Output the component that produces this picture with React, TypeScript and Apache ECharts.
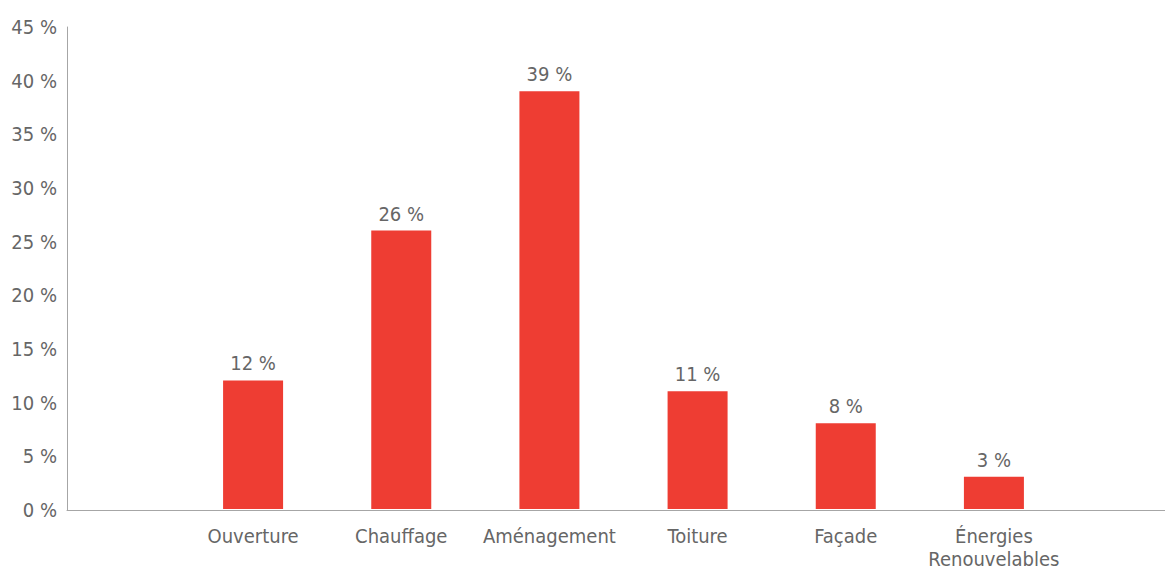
import React, { useEffect, useRef } from "react";
import * as echarts from "echarts";

const categories = ["Ouverture", "Chauffage", "Aménagement", "Toiture", "Façade", "Énergies\nRenouvelables"];
const values = [12, 26, 39, 11, 8, 3];
const yTicks = [0, 5, 10, 15, 20, 25, 30, 35, 40, 45];

const FONT = "'DejaVu Sans Condensed', 'Liberation Sans Narrow', 'Roboto', sans-serif";
const TEXT = "#666666";
const BAR = "#EE3D33";
const FS = 20;

export default function App() {
  const ref = useRef<HTMLDivElement>(null);
  useEffect(() => {
    if (!ref.current) return;
    const chart = echarts.init(ref.current, null, { renderer: "svg" });
    chart.setOption({
      animation: false,
      backgroundColor: "#ffffff",
      grid: [
        { left: 67, right: 0, top: 27, bottom: 60 },
        { left: 179, right: 97, top: 27, bottom: 60 },
      ],
      xAxis: [
        {
          gridIndex: 0,
          type: "value",
          min: 0,
          max: 1,
          axisLine: { show: true, onZero: false, lineStyle: { color: "#a6a6a6", width: 1 } },
          axisTick: { show: false },
          axisLabel: { show: false },
          splitLine: { show: false },
        },
        {
          gridIndex: 1,
          type: "category",
          data: categories,
          axisLine: { show: false },
          axisTick: { show: false },
          axisLabel: {
            color: TEXT,
            fontFamily: FONT,
            fontSize: FS,
            margin: 15,
            lineHeight: 23,
            interval: 0,
          },
        },
      ],
      yAxis: [
        {
          gridIndex: 0,
          type: "value",
          min: yTicks[0],
          max: yTicks[yTicks.length - 1],
          interval: 5,
          axisLine: { show: true, lineStyle: { color: "#a6a6a6", width: 1 } },
          axisTick: { show: false },
          splitLine: { show: false },
          axisLabel: {
            color: TEXT,
            fontFamily: FONT,
            fontSize: FS,
            margin: 10,
            formatter: (v: number) => `${v} %`,
          },
        },
        {
          gridIndex: 1,
          type: "value",
          min: yTicks[0],
          max: yTicks[yTicks.length - 1],
          interval: 5,
          show: false,
        },
      ],
      series: [
        {
          type: "bar",
          xAxisIndex: 1,
          yAxisIndex: 1,
          data: values,
          barWidth: 60,
          itemStyle: { color: BAR },
          label: {
            show: true,
            position: "top",
            distance: 7,
            color: TEXT,
            fontFamily: FONT,
            fontSize: FS,
            formatter: (p: any) => `${p.value} %`,
          },
        },
      ],
    });
    return () => chart.dispose();
  }, []);
  return (
    <div
      ref={ref}
      style={{ position: "fixed", left: 0, top: 0, width: 1165, height: 570 }}
    />
  );
}
